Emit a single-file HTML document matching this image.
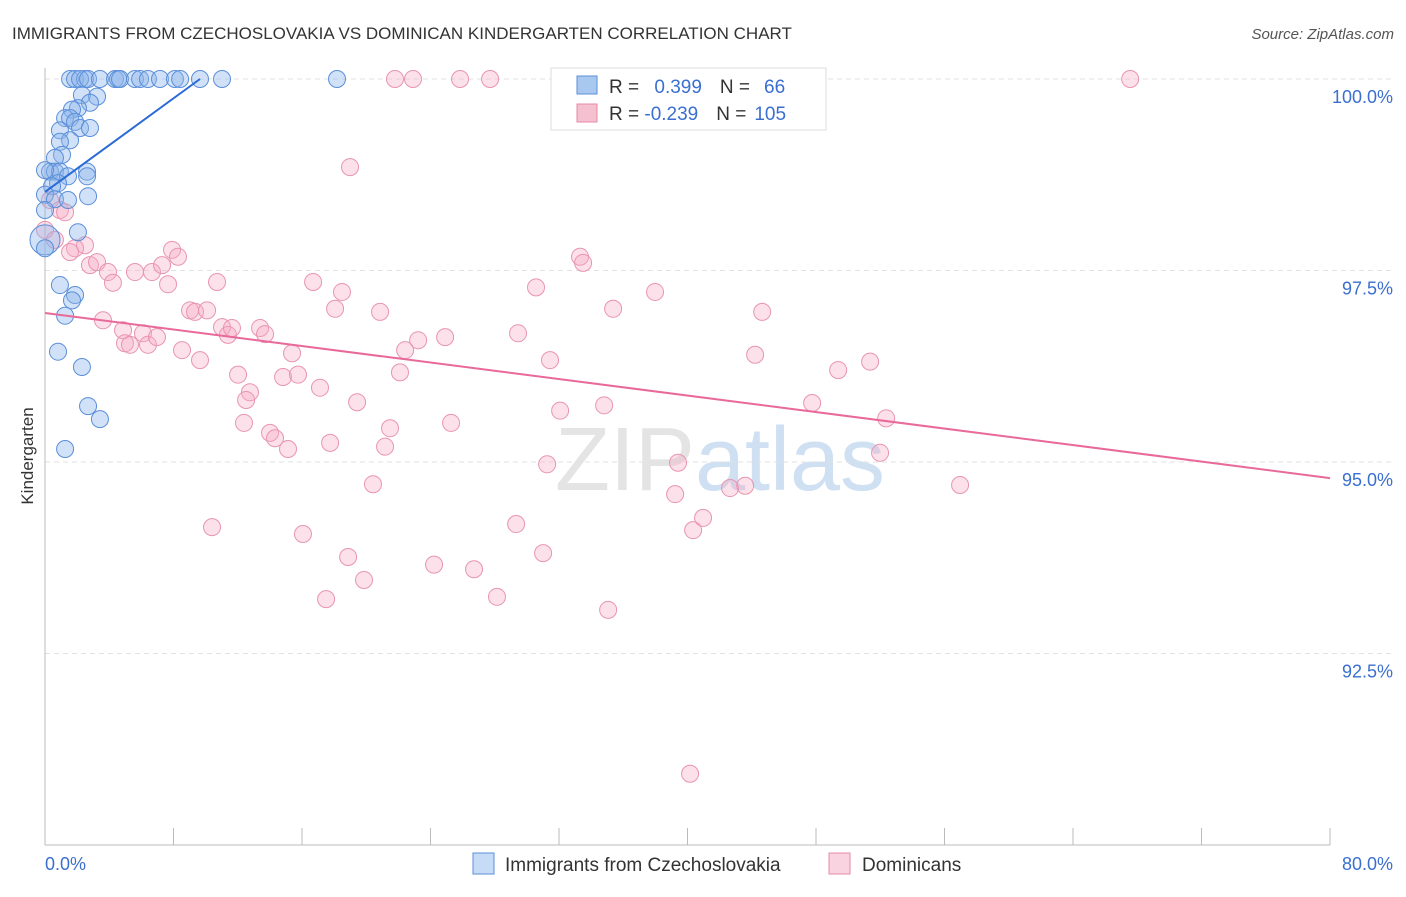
<!DOCTYPE html>
<html><head><meta charset="utf-8"><style>
body{margin:0;background:#fff;font-family:"Liberation Sans",sans-serif;}
svg text{font-family:"Liberation Sans",sans-serif;}
</style></head><body>
<svg id="chart" width="1406" height="892">
<text x="12" y="39" font-size="17" fill="#333">IMMIGRANTS FROM CZECHOSLOVAKIA VS DOMINICAN KINDERGARTEN CORRELATION CHART</text>
<text x="1394" y="39" font-size="15" fill="#555" text-anchor="end" font-style="italic">Source: ZipAtlas.com</text>
<text x="33" y="456" font-size="17" fill="#333" text-anchor="middle" transform="rotate(-90 33 456)">Kindergarten</text>
<text x="720" y="490" font-size="90" fill="#e4e4e4" text-anchor="middle" font-family="Liberation Serif">ZIP<tspan fill="#cfe0f3" font-family="Liberation Sans">atlas</tspan></text>
<g id="grid"></g><g id="axes"></g><g id="pts"></g><g id="trend"></g>
<g>
<rect x="551" y="68" width="275" height="62" fill="#fff" stroke="#ddd"/>
<rect x="577" y="76" width="20" height="18" fill="#a9c8ef" stroke="#5b8fd9"/>
<text x="609" y="93" font-size="19" fill="#333">R = <tspan fill="#3a6fd0" dx="10">0.399</tspan><tspan dx="18" fill="#333">N =</tspan><tspan dx="14" fill="#3a6fd0">66</tspan></text>
<rect x="577" y="104" width="20" height="18" fill="#f5c0d0" stroke="#e68aa8"/>
<text x="609" y="120" font-size="19" fill="#333">R = <tspan fill="#3a6fd0">-0.239</tspan><tspan dx="18" fill="#333">N =</tspan><tspan dx="8" fill="#3a6fd0">105</tspan></text>
</g>
<g>
<rect x="473" y="853" width="21" height="21" fill="#c6dbf5" stroke="#5b8fd9"/>
<text x="505" y="871" font-size="19" fill="#333">Immigrants from Czechoslovakia</text>
<rect x="829" y="853" width="21" height="21" fill="#f9d3df" stroke="#e68aa8"/>
<text x="862" y="871" font-size="19" fill="#333">Dominicans</text>
</g>
</svg>
<script>
const blueX=[1.56,1.87,2.49,2.18,2.68,3.42,4.36,4.55,4.67,5.60,5.92,6.41,7.16,8.09,8.41,9.65,11.02,18.18,2.30,3.24,2.80,2.05,1.68,1.25,1.56,1.87,0.93,2.18,2.80,1.56,0.93,1.06,0.62,0.31,0.62,0.93,1.43,0,0.81,2.62,2.62,0.44,0,0.62,1.43,2.68,0,2.05,0,0,0.93,1.87,1.68,1.25,0.81,2.30,2.68,3.42,1.25];
const blueY=[100,100,100,100,100,100,100,100,100,100,100,100,100,100,100,100,100,100,99.79,99.77,99.69,99.62,99.60,99.49,99.49,99.44,99.33,99.36,99.36,99.20,99.18,99.01,98.97,98.79,98.79,98.79,98.73,98.81,98.64,98.79,98.73,98.60,98.49,98.43,98.42,98.47,98.29,98.00,97.90,97.79,97.31,97.18,97.11,96.91,96.44,96.24,95.73,95.56,95.17];
const pinkX=[21.79,22.91,25.84,27.71,32.38,45.45,67.56,18.99,0.31,0.93,1.25,0,0.62,2.49,1.87,1.56,7.91,8.28,2.80,3.24,3.92,4.23,5.60,6.66,7.29,7.66,10.71,16.69,18.49,33.31,33.50,30.57,37.98,35.37,44.65,3.61,4.86,4.98,5.29,6.10,6.41,6.97,9.03,9.34,10.09,11.02,11.39,11.64,13.39,13.70,18.06,20.86,23.23,24.91,29.45,8.53,9.65,12.02,15.38,14.82,15.75,17.12,22.42,22.10,31.44,44.21,49.38,51.37,12.76,12.52,12.39,14.01,14.32,15.13,17.75,19.43,21.48,21.17,25.28,32.07,34.81,47.76,52.37,31.26,39.41,51.99,20.42,39.23,42.65,43.59,56.97,10.40,16.06,29.33,40.35,40.97,18.87,31.01,19.86,24.22,26.71,17.50,28.14,35.06,40.16];
const pinkY=[100,100,100,100,100,100,100,98.85,98.42,98.29,98.26,98.03,97.90,97.83,97.79,97.74,97.77,97.68,97.57,97.61,97.48,97.34,97.48,97.48,97.57,97.32,97.35,97.35,97.22,97.68,97.60,97.28,97.22,97.00,96.96,96.85,96.72,96.55,96.53,96.68,96.53,96.63,96.98,96.96,96.98,96.76,96.66,96.75,96.75,96.67,97.00,96.96,96.59,96.63,96.68,96.46,96.33,96.14,96.42,96.11,96.14,95.97,96.46,96.17,96.33,96.40,96.20,96.31,95.91,95.81,95.51,95.38,95.31,95.17,95.25,95.78,95.44,95.20,95.51,95.67,95.74,95.77,95.57,94.97,94.99,95.12,94.71,94.58,94.66,94.69,94.70,94.15,94.06,94.19,94.11,94.27,93.76,93.81,93.46,93.66,93.60,93.21,93.24,93.07,90.93];
const yTicks=[100,97.5,95,92.5];
const yTickLabels=["100.0%","97.5%","95.0%","92.5%"];
const blueTrend=[0,98.525,9.65,100];
const pinkTrend=[0,96.945,80,94.79];
const NS="http://www.w3.org/2000/svg";
const sx=v=>45+v*1285/80;
const sy=v=>79+(100-v)*76.6;
function mk(tag,attrs,parent){const e=document.createElementNS(NS,tag);for(const k in attrs)e.setAttribute(k,attrs[k]);parent.appendChild(e);return e;}
const grid=document.getElementById('grid'),axes=document.getElementById('axes'),pts=document.getElementById('pts'),tr=document.getElementById('trend');
yTicks.forEach((t,i)=>{
 const l=mk('line',{x1:45,x2:1394,y1:sy(t),y2:sy(t),stroke:'#e2e2e2','stroke-dasharray':'5,4'},grid);
 
 
 const tx=mk('text',{x:1393,y:sy(t)+24,'font-size':18,fill:'#3a6fd0','text-anchor':'end'},axes);
 tx.textContent=yTickLabels[i];
 
 
});
const ax=mk('line',{x1:45,x2:1330,y1:845,y2:845,stroke:'#bbb'},axes);


const ay=mk('line',{x1:45,x2:45,y1:68,y2:845,stroke:'#bbb'},axes);


for(let i=0;i<=10;i++){const t=mk('line',{x1:sx(i*8),x2:sx(i*8),y1:828,y2:845,stroke:'#bbb'},axes);
 
 }
[[45,'0.0%','start'],[1393,'80.0%','end']].forEach(a=>{const t=mk('text',{x:a[0],y:870,'font-size':18,fill:'#3a6fd0','text-anchor':a[2]},axes);t.textContent=a[1];
 
 });
pinkX.forEach((x,i)=>{const c=mk('circle',{cx:sx(x),cy:sy(pinkY[i]),r:8.5,fill:'rgba(245,170,195,0.35)',stroke:'#e895b0','stroke-width':1},pts);
 
 });
blueX.forEach((x,i)=>{const big=(i===48);const c=mk('circle',{cx:sx(x),cy:sy(blueY[i]),r:big?15:8.5,fill:'rgba(140,180,235,0.4)',stroke:'#5b8fd9','stroke-width':1},pts);
 
 });
const bl=mk('line',{x1:sx(blueTrend[0]),y1:sy(blueTrend[1]),x2:sx(blueTrend[2]),y2:sy(blueTrend[3]),stroke:'#2a6bd6','stroke-width':2},tr);


const pl=mk('line',{x1:sx(pinkTrend[0]),y1:sy(pinkTrend[1]),x2:sx(pinkTrend[2]),y2:sy(pinkTrend[3]),stroke:'#e8699a','stroke-width':2},tr);


</script>
</body></html>
